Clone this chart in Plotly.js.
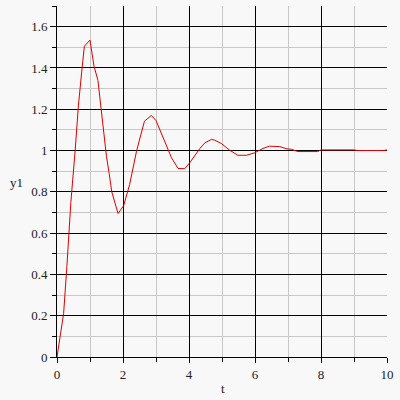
<!DOCTYPE html>
<html>
<head>
<meta charset="utf-8">
<script src="https://cdn.plot.ly/plotly-3.0.1.min.js"></script>
<style>html,body{margin:0;padding:0;background:#f8f8f8;}#chart{width:400px;height:400px;}</style>
</head>
<body>
<div id="chart"></div>
<script>
const tValues = [0, 0.02, 0.1, 0.2, 0.3, 0.42, 0.55, 0.65, 0.76, 0.83, 1.0, 1.12, 1.24, 1.32, 1.4, 1.5, 1.58, 1.66, 1.85, 2.02, 2.2, 2.41, 2.65, 2.86, 3.0, 3.25, 3.47, 3.67, 3.87, 4.02, 4.32, 4.48, 4.68, 4.78, 4.98, 5.23, 5.48, 5.74, 5.99, 6.24, 6.44, 6.75, 6.97, 7.1, 7.3, 7.9, 8.0, 9.0, 9.1, 9.9, 10.0];
const y1Values = [0, 0.02, 0.1, 0.21, 0.44, 0.75, 1.0, 1.22, 1.40, 1.505, 1.535, 1.41, 1.34, 1.23, 1.10, 0.97, 0.89, 0.80, 0.695, 0.733, 0.835, 0.997, 1.142, 1.17, 1.145, 1.054, 0.965, 0.913, 0.912, 0.94, 1.008, 1.037, 1.054, 1.05, 1.034, 1.002, 0.977, 0.977, 0.989, 1.010, 1.021, 1.019, 1.008, 1.006, 0.995, 0.995, 1.003, 1.003, 1.0, 1.0, 1.003];
const xTickVals = [0, 2, 4, 6, 8, 10];
const yTickVals = [0, 0.2, 0.4, 0.6, 0.8, 1, 1.2, 1.4, 1.6];

const FAMILY = 'Liberation Serif';
function mkFont() { return {family: FAMILY, size: 13, color: '#222222'}; }

const trace = {
  x: tValues, y: y1Values, type: 'scatter', mode: 'lines',
  line: {color: '#dd0000', width: 1}, hoverinfo: 'none'
};

const layout = {
  width: 400, height: 400,
  paper_bgcolor: '#f8f8f8', plot_bgcolor: '#f8f8f8',
  margin: {l: 57, r: 13, t: 6, b: 43},
  showlegend: false,
  font: mkFont(),
  xaxis: {
    range: [0, 10], tickmode: 'array', tickvals: xTickVals,
    showgrid: true, gridcolor: '#000', gridwidth: 1,
    zeroline: false, showline: true, linecolor: '#000', linewidth: 1,
    ticks: 'outside', ticklen: 5, tickcolor: '#000', tickfont: mkFont(),
    minor: {dtick: 1, showgrid: true, gridcolor: '#c8c8c8', gridwidth: 1, ticks: 'outside', ticklen: 4, tickcolor: '#000'}
  },
  yaxis: {
    range: [0, 1.7], tickmode: 'array', tickvals: yTickVals,
    showgrid: true, gridcolor: '#000', gridwidth: 1,
    zeroline: false, showline: true, linecolor: '#000', linewidth: 1,
    ticks: 'outside', ticklen: 6, tickcolor: '#000', tickfont: mkFont(),
    minor: {dtick: 0.1, showgrid: true, gridcolor: '#c8c8c8', gridwidth: 1, ticks: 'outside', ticklen: 4, tickcolor: '#000'}
  },
  annotations: [
    {text: 'y1', xref: 'paper', yref: 'paper', x: -0.124, y: 0.496, showarrow: false, font: mkFont(), xanchor: 'center', yanchor: 'middle'},
    {text: 't', xref: 'paper', yref: 'paper', x: 0.503, y: -0.089, showarrow: false, font: mkFont(), xanchor: 'center', yanchor: 'middle'}
  ]
};

Plotly.newPlot('chart', [trace], layout, {staticPlot: true, displayModeBar: false});
</script>
</body>
</html>
